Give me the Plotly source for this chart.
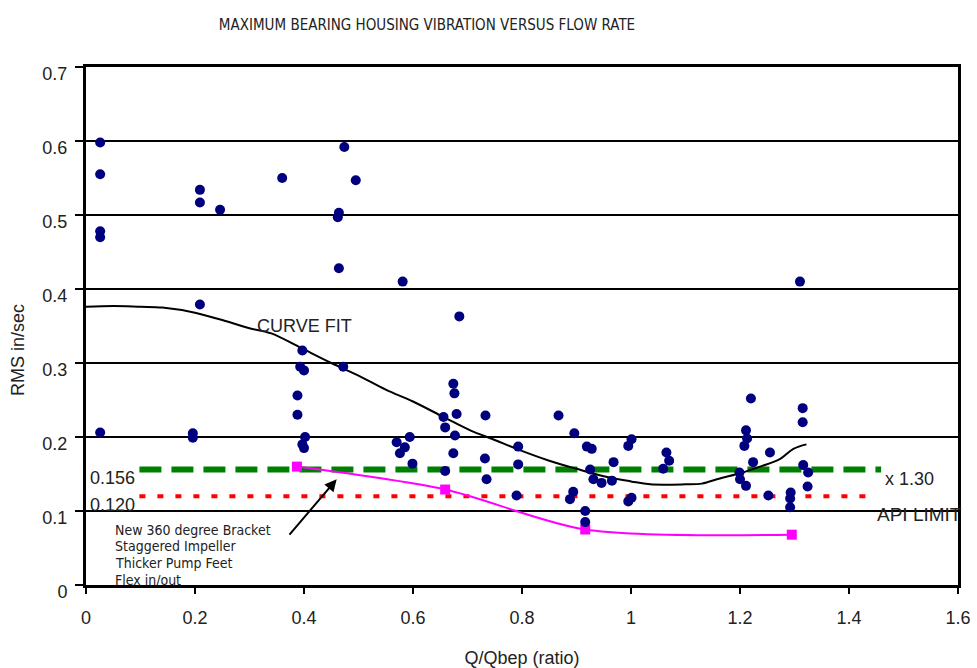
import plotly.graph_objects as go

# ---- data ----
scatter_x = [0.026, 0.026, 0.026, 0.026, 0.026, 0.209, 0.209, 0.246, 0.209, 0.196, 0.196,
             0.360, 0.474, 0.495, 0.464, 0.462, 0.464, 0.581, 0.685,
             0.397, 0.393, 0.400, 0.472, 0.388, 0.388, 0.402, 0.397, 0.400,
             0.570, 0.594, 0.585, 0.576, 0.599,
             0.674, 0.676, 0.680, 0.656, 0.659, 0.677, 0.674, 0.659,
             0.733, 0.732, 0.735, 0.867, 0.896, 0.793, 0.793, 0.790,
             0.919, 0.928, 0.925, 0.931, 0.946, 0.965, 0.968, 0.894, 0.888, 0.916, 0.916,
             1.001, 0.995, 1.001, 0.995, 1.065, 1.070, 1.059,
             1.220, 1.315, 1.315, 1.211, 1.213, 1.208, 1.255, 1.224, 1.199, 1.200, 1.211,
             1.316, 1.325, 1.324, 1.252, 1.293, 1.292, 1.292, 1.310]
scatter_y = [0.598, 0.555, 0.478, 0.470, 0.206, 0.534, 0.517, 0.507, 0.379, 0.205, 0.199,
             0.550, 0.592, 0.547, 0.503, 0.497, 0.428, 0.410, 0.363,
             0.317, 0.295, 0.290, 0.295, 0.256, 0.230, 0.200, 0.190, 0.185,
             0.193, 0.200, 0.186, 0.178, 0.164,
             0.272, 0.259, 0.231, 0.227, 0.213, 0.202, 0.178, 0.154,
             0.229, 0.171, 0.143, 0.229, 0.205, 0.187, 0.163, 0.121,
             0.187, 0.184, 0.156, 0.143, 0.138, 0.141, 0.166, 0.126, 0.116, 0.100, 0.085,
             0.197, 0.188, 0.118, 0.113, 0.179, 0.168, 0.157,
             0.252, 0.239, 0.220, 0.209, 0.198, 0.188, 0.179, 0.166, 0.152, 0.143, 0.134,
             0.162, 0.152, 0.133, 0.121, 0.125, 0.117, 0.105, 0.410]

curve_x = [0.0, 0.05, 0.10, 0.14, 0.20, 0.25, 0.30, 0.34, 0.39, 0.45, 0.50, 0.55, 0.60,
           0.656, 0.705, 0.75, 0.79, 0.85, 0.90, 0.95, 1.00, 1.035, 1.10, 1.13, 1.163,
           1.20, 1.237, 1.273, 1.298, 1.322]
curve_y = [0.376, 0.377, 0.376, 0.375, 0.368, 0.358, 0.347, 0.340, 0.322, 0.300, 0.283,
           0.264, 0.248, 0.227, 0.209, 0.196, 0.184, 0.168, 0.157, 0.147, 0.140, 0.136,
           0.136, 0.137, 0.144, 0.151, 0.160, 0.170, 0.184, 0.190]

mod_x = [0.387, 0.659, 0.916, 1.295]
mod_y = [0.160, 0.129, 0.075, 0.068]

limit130_x = [0.098, 1.459]
limit130_y = [0.156, 0.156]
api_x = [0.098, 1.435]
api_y = [0.120, 0.120]

note_lines = ["New 360 degree Bracket", "Staggered Impeller", "Thicker Pump Feet", "Flex in/out"]

FONT = "Liberation Sans, Arial, sans-serif"
NARROW = "Liberation Sans Narrow, Arial Narrow, DejaVu Sans Condensed, sans-serif"
TXT = "#222222"

fig = go.Figure()
fig.add_trace(go.Scatter(x=limit130_x, y=limit130_y, mode="lines",
                         line=dict(color="#008000", width=6, dash="22px,10px"), hoverinfo="skip"))
fig.add_trace(go.Scatter(x=api_x, y=api_y, mode="lines",
                         line=dict(color="#FF0000", width=4, dash="6px,12px"), hoverinfo="skip"))
fig.add_trace(go.Scatter(x=curve_x, y=curve_y, mode="lines",
                         line=dict(color="black", width=2, shape="spline")))
fig.add_trace(go.Scatter(x=mod_x, y=mod_y, mode="lines+markers",
                         line=dict(color="#FF00FF", width=2, shape="spline", smoothing=0.8),
                         marker=dict(symbol="square", size=10, color="#FF00FF")))
fig.add_trace(go.Scatter(x=scatter_x, y=scatter_y, mode="markers",
                         marker=dict(symbol="circle", size=10, color="#00007F")))

SH = -1  # pixel shift for text labels
ann = []
ann.append(dict(x=0.31, y=0.351, yshift=SH, text="CURVE FIT", xanchor="left", yanchor="middle",
                showarrow=False, font=dict(family=FONT, size=18, color=TXT)))
ann.append(dict(x=0.003, y=0.146, yshift=SH, text="0.156", xanchor="left", yanchor="middle",
                showarrow=False, font=dict(family=FONT, size=18, color=TXT)))
ann.append(dict(x=0.003, y=0.109, yshift=SH, text="0.120", xanchor="left", yanchor="middle",
                showarrow=False, font=dict(family=FONT, size=18, color=TXT)))
ann.append(dict(x=1.462, y=0.144, yshift=SH, text="x 1.30", xanchor="left", yanchor="middle",
                showarrow=False, font=dict(family=FONT, size=18, color=TXT)))
ann.append(dict(x=1.448, y=0.097, yshift=SH, text="API LIMIT", xanchor="left", yanchor="middle",
                showarrow=False, font=dict(family=FONT, size=19, color=TXT)))
ann.append(dict(x=0.46, y=0.143, ax=0.371, ay=0.066, axref="x", ayref="y", text="",
                showarrow=True, arrowhead=2, arrowsize=1.2, arrowwidth=2, arrowcolor="black"))
for i, line in enumerate(note_lines):
    ann.append(dict(x=0.052, y=0.075 - i * 0.0227, yshift=0, text=line, xanchor="left",
                    yanchor="middle", showarrow=False, borderpad=0,
                    font=dict(family=NARROW, size=14, color=TXT)))
ann.append(dict(x=(18 - 86) / (958 - 86), y=(585 - 350) / (585 - 67), xref="paper", yref="paper",
                text="RMS in/sec", textangle=-90, showarrow=False, xanchor="center",
                yanchor="middle", font=dict(family=FONT, size=18, color=TXT)))

fig.update_layout(
    width=977, height=668, autosize=False,
    margin=dict(l=86, r=19, t=67, b=83),
    paper_bgcolor="white", plot_bgcolor="white",
    showlegend=False,
    title=dict(text="MAXIMUM BEARING HOUSING VIBRATION VERSUS FLOW RATE",
               x=427 / 977, xanchor="center", y=1 - 25 / 668, yanchor="middle",
               font=dict(family=NARROW, size=15, color=TXT)),
    annotations=ann,
    xaxis=dict(range=[0, 1.6], dtick=0.2, tick0=0, showgrid=False, zeroline=False,
               showline=True, linecolor="black", linewidth=3, mirror=True,
               ticks="outside", ticklen=6, tickwidth=2, tickcolor="black",
               ticklabelstandoff=8, automargin=False,
               tickfont=dict(family=FONT, size=18, color=TXT),
               title=dict(text="Q/Qbep (ratio)", standoff=33,
                          font=dict(family=FONT, size=18, color=TXT))),
    yaxis=dict(range=[0, 0.7], dtick=0.1, tick0=0, showgrid=True, gridcolor="black",
               gridwidth=2, zeroline=False, automargin=False,
               showline=True, linecolor="black", linewidth=3, mirror=True,
               ticks="outside", ticklen=8, tickwidth=2, tickcolor="black",
               ticklabelshift=7, ticklabelstandoff=4,
               tickfont=dict(family=FONT, size=18, color=TXT)),
)

fig.write_html("out.html")
